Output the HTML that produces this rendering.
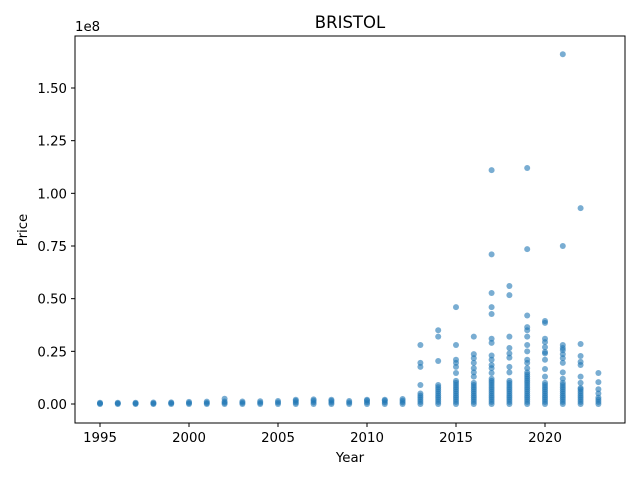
<!DOCTYPE html>
<html><head><meta charset="utf-8"><style>
body{margin:0;background:#fff;font-family:"Liberation Sans","DejaVu Sans",sans-serif}
svg text{font-family:"DejaVu Sans","Liberation Sans",sans-serif;font-size:13.3px;fill:#000}
</style></head><body>
<svg id="chart" width="640" height="480" viewBox="0 0 640 480" xmlns="http://www.w3.org/2000/svg">
<rect width="640" height="480" fill="#fff"/>
<text x="350" y="28" text-anchor="middle" style="font-size:16.5px">BRISTOL</text>
<g id="marks"></g>
<g id="axes"></g>
<rect x="75" y="36" width="550" height="387" fill="none" stroke="#000" stroke-width="1"/>
<text x="75" y="31">1e8</text>
<text x="350" y="462" text-anchor="middle">Year</text>
<text x="27" y="230" text-anchor="middle" transform="rotate(-90 27 230)">Price</text>
</svg>
<script>
const years=[1995,1996,1997,1998,1999,2000,2001,2002,2003,2004,2005,2006,2007,2008,2009,2010,2011,2012,2013,2014,2015,2016,2017,2018,2019,2020,2021,2022,2023];
// prices in millions
const prices=[
[0,0.3,0.6],[0,0.3,0.6],[0,0.3,0.6],[0,0.3,0.7],[0,0.4,0.8],[0,0.5,1],[0,0.5,1.1],[0,0.6,1.2,2.5],[0,0.6,1.2],[0,0.6,1.3],[0,0.7,1.4],[0,0.7,1.5,2],[0,0.8,1.6,2.2],[0,0.7,1.5,2],[0,0.7,1.4],[0,0.8,1.6,2],[0,0.8,1.6,2],[0,0.8,1.6,2.4],
[0,1,2,3,4,5,9,17.6,19.5,28],
[0,1,2,3,4,5,6,7,8,9,20.4,32,35],
[0,1,2,3,4,5,6,7,8,9,10,11,14.7,17.6,19.5,21,28,46],
[0,1,2,3,4,5,6,7,8,9,10,13,15,17,19.5,21.8,23.7,32],
[0,1,2,3,4,5,6,7,8,9,10,11,12,14.7,17,18.5,21,23,29,31,42.7,46,52.7,71,111],
[0,1,2,3,4,5,6,7,8,9,10,11,15,17.6,22,24,26.6,32,51.7,56],
[0,1,2,3,4,5,6,7,8,9,10,11,12,13,14,15,17,19.5,21,25,28,32,35,36.5,42,73.5,112],
[0,1,2,3,4,5,6,7,8,9,10,13,16.6,21,24,24.7,27,29.4,31,38.5,39.4],
[0,1,2,3,4,5,6,7,8,9,10,12,15,19.5,21.8,23.7,25.6,26.6,28,75,166],
[0,1,2,3,4,5,6,7,7.6,10,13,18.5,20,22.8,28.5,93],
[0,1,2,3,5,7,10.4,14.7]
];
const yTicks=[0,0.25,0.5,0.75,1.0,1.25,1.5];
const xTicks=[1995,2000,2005,2010,2015,2020];
const xS=y=>100+(y-1995)*17.8;
const yS=v=>404-v*(316/150); // v in millions
const yS8=t=>yS(t*100);
const NS="http://www.w3.org/2000/svg";
const marks=document.getElementById('marks');
years.forEach((yr,i)=>{prices[i].forEach(v=>{
 const c=document.createElementNS(NS,'circle');
 c.setAttribute('cx',xS(yr));c.setAttribute('cy',yS(v));c.setAttribute('r',3);
 c.setAttribute('fill','#1f77b4');c.setAttribute('fill-opacity','0.6');
 
 
 marks.appendChild(c);});});
const axes=document.getElementById('axes');
yTicks.forEach(t=>{
 const l=document.createElementNS(NS,'line');
 l.setAttribute('x1',71);l.setAttribute('x2',75);l.setAttribute('y1',yS8(t));l.setAttribute('y2',yS8(t));l.setAttribute('stroke','#000');
 
 
 axes.appendChild(l);
 const tx=document.createElementNS(NS,'text');
 tx.setAttribute('x',67);tx.setAttribute('y',yS8(t)+5);tx.setAttribute('text-anchor','end');tx.textContent=t.toFixed(2);
 
 
 axes.appendChild(tx);});
xTicks.forEach(t=>{
 const l=document.createElementNS(NS,'line');
 l.setAttribute('x1',xS(t));l.setAttribute('x2',xS(t));l.setAttribute('y1',423);l.setAttribute('y2',427);l.setAttribute('stroke','#000');
 
 
 axes.appendChild(l);
 const tx=document.createElementNS(NS,'text');
 tx.setAttribute('x',xS(t));tx.setAttribute('y',442);tx.setAttribute('text-anchor','middle');tx.textContent=t;
 
 
 axes.appendChild(tx);});
</script>
</body></html>
